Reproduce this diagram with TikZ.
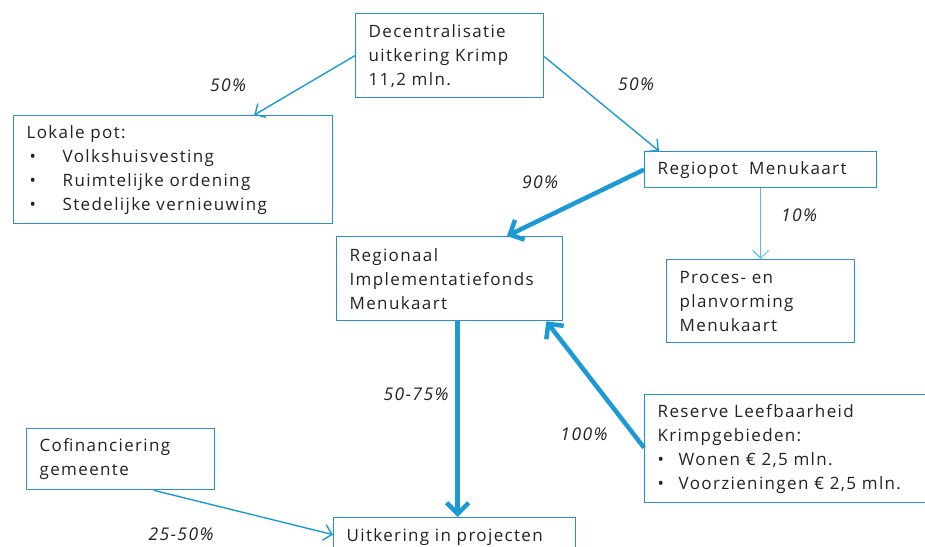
\documentclass[tikz,border=0pt]{standalone}
\usepackage{fontspec}
\setmainfont[LetterSpace=8,WordSpace=1.3]{Open Sans}
\usetikzlibrary{arrows.meta}
\definecolor{boxc}{HTML}{2A8FC4}
\definecolor{arrc}{HTML}{1B9AD6}
\definecolor{arrl}{HTML}{55BDE8}
\definecolor{txtc}{HTML}{222222}
\tikzset{
  box/.style={draw=boxc, line width=1.3pt, anchor=north west, align=left,
    inner xsep=13pt, inner ysep=0pt, text=txtc,
    font=\fontsize{17pt}{24pt}\selectfont},
  thinarr/.style={draw=arrc, line width=1.4pt, -{Straight Barb[length=8pt,width=16pt,line width=1.4pt]}},
  thickarr/.style={draw=arrc, line width=4.5pt, -{Straight Barb[length=11pt,width=22pt,line width=4.5pt]}},
  lightarr/.style={draw=arrl, line width=1pt, -{Straight Barb[length=8pt,width=16pt,line width=1pt]}},
  pct/.style={font=\fontsize{17.5pt}{18pt}\selectfont\itshape, text=txtc, inner sep=0pt}
}
\begin{document}
\begin{tikzpicture}[x=1pt,y=-1pt]
\useasboundingbox (0,0) rectangle (925,546);
\begin{scope}
\clip (0,0) rectangle (925,546);
\node[box, text width=162pt, minimum height=84pt] (dec) at (355,13)
  {Decentralisatie\\uitkering Krimp\\11,2 mln.};
\node[box, text width=293pt, minimum height=108pt] (lok) at (13,115)
  {Lokale pot:\\\makebox[36pt][l]{\hspace{3pt}•}Volkshuisvesting\\\makebox[36pt][l]{\hspace{3pt}•}Ruimtelijke ordening\\\makebox[36pt][l]{\hspace{3pt}•}Stedelijke vernieuwing};
\node[box, text width=206pt, minimum height=36pt] (reg) at (644,151)
  {Regiopot\ \ Menukaart};
\node[box, text width=200pt, minimum height=84pt] (rif) at (336,236)
  {Regionaal\\Implementatiefonds\\Menukaart};
\node[box, text width=162pt, minimum height=83pt] (pro) at (666,259)
  {Proces- en\\planvorming\\Menukaart};
\node[box, text width=274pt, minimum height=108pt] (res) at (644,394)
  {Reserve Leefbaarheid\\Krimpgebieden:\\\makebox[21pt][l]{•}Wonen € 2,5 mln.\\\makebox[21pt][l]{•}Voorzieningen € 2,5 mln.};
\node[box, text width=162pt, minimum height=61pt] (cof) at (26,428)
  {Cofinanciering\\gemeente};
\node[box, text width=216pt, minimum height=38pt] (uit) at (333,517)
  {Uitkering in projecten};
\end{scope}

\draw[thinarr] (dec.west) -- ([xshift=81pt]lok.north);
\draw[thinarr] ([yshift=-1pt]dec.east) -- ([xshift=15pt]reg.north west);
\draw[thickarr] (reg.west) -- ([xshift=171pt]rif.north west);
\draw[lightarr] (reg.south) -- (pro.north);
\draw[thickarr] ([xshift=8pt]rif.south) -- ([xshift=8pt]rif.south |- uit.north);
\draw[thickarr] ([yshift=1pt]res.west) -- ([xshift=-17pt]rif.south east);
\draw[thinarr] ([xshift=33pt]cof.south) -- ([yshift=2pt]uit.west);

\node[pct] (p1) at (228,85) {50\%};
\node[pct] (p2) at (636,84) {50\%};
\node[pct] (p3) at (540,182) {90\%};
\node[pct] (p4) at (799,215) {10\%};
\node[pct] (p5) at (416,394) {50-75\%};
\node[pct] (p6) at (584,434) {100\%};
\node[pct] (p7) at (181,534) {25-50\%};
\end{tikzpicture}
\end{document}
